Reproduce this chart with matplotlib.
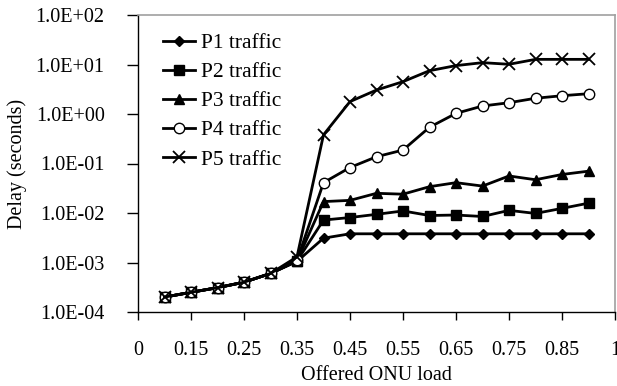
import matplotlib
matplotlib.use("Agg")
import matplotlib.pyplot as plt
import numpy as np

load = [0.10, 0.15, 0.20, 0.25, 0.30, 0.35, 0.40, 0.45, 0.50,
        0.55, 0.60, 0.65, 0.70, 0.75, 0.80, 0.85, 0.90]

p1 = [2.0e-4, 2.5e-4, 3.1e-4, 4.0e-4, 6.0e-4, 1.05e-3, 3.1e-3, 3.8e-3, 3.8e-3,
      3.8e-3, 3.8e-3, 3.8e-3, 3.8e-3, 3.8e-3, 3.8e-3, 3.8e-3, 3.8e-3]
p2 = [2.0e-4, 2.5e-4, 3.1e-4, 4.0e-4, 6.0e-4, 1.07e-3, 7.2e-3, 8.1e-3, 9.4e-3,
      1.1e-2, 8.9e-3, 9.1e-3, 8.5e-3, 1.13e-2, 9.8e-3, 1.24e-2, 1.58e-2]
p3 = [2.0e-4, 2.5e-4, 3.1e-4, 4.0e-4, 6.0e-4, 1.08e-3, 1.7e-2, 1.8e-2, 2.5e-2,
      2.4e-2, 3.4e-2, 4.1e-2, 3.5e-2, 5.6e-2, 4.7e-2, 6.0e-2, 7.0e-2]
p4 = [2.0e-4, 2.5e-4, 3.1e-4, 4.0e-4, 6.0e-4, 1.1e-3, 4.1e-2, 8.3e-2, 0.137,
      0.187, 0.54, 1.03, 1.45, 1.69, 2.08, 2.34, 2.57]
p5 = [2.0e-4, 2.5e-4, 3.1e-4, 4.0e-4, 6.0e-4, 1.3e-3, 0.38, 1.78, 3.05,
      4.5, 7.5, 9.5, 10.9, 10.1, 12.7, 12.7, 12.7]

series = [
    ("P1 traffic", p1, dict(marker="D", markersize=5.5, markerfacecolor="black")),
    ("P2 traffic", p2, dict(marker="s", markersize=7, markerfacecolor="black")),
    ("P3 traffic", p3, dict(marker="^", markersize=7.5, markerfacecolor="black")),
    ("P4 traffic", p4, dict(marker="o", markersize=7.5, markerfacecolor="white")),
    ("P5 traffic", p5, dict(marker="x", markersize=8, markeredgewidth=1.3)),
]

xtick_pos = [0.05, 0.15, 0.25, 0.35, 0.45, 0.55, 0.65, 0.75, 0.85, 0.95]
xtick_labels = ["0", "0.15", "0.25", "0.35", "0.45", "0.55", "0.65", "0.75", "0.85", "1"]
ytick_pos = [1e-4, 1e-3, 1e-2, 1e-1, 1e0, 1e1, 1e2]
ytick_labels = ["1.0E-04", "1.0E-03", "1.0E-02", "1.0E-01", "1.0E+00", "1.0E+01", "1.0E+02"]

plt.rcParams["font.family"] = ["Liberation Serif", "DejaVu Serif"]
plt.rcParams["font.size"] = 14.5

fig = plt.figure(figsize=(6.17, 3.86), dpi=100)
ax = fig.add_axes([138 / 617, 1 - 312 / 386, (615 - 138) / 617, (312 - 15) / 386])

for name, vals, style in series:
    ax.plot(load, vals, color="black", linewidth=2, label=name, **style)

ax.set_yscale("log")
ax.set_ylim(1e-4, 1e2)
ax.set_xlim(0.05, 0.95)
ax.set_yticks(ytick_pos)
ax.set_yticklabels(ytick_labels)
ax.yaxis.set_minor_locator(matplotlib.ticker.NullLocator())
ax.set_xticks(xtick_pos)
ax.set_xticklabels(xtick_labels)

ax.tick_params(axis="y", direction="out", length=8, width=1, pad=16)
ax.tick_params(axis="x", direction="out", length=6, width=1, pad=15)

for side in ("top", "right"):
    ax.spines[side].set_color("#a0a0a0")
    ax.spines[side].set_linewidth(1.2)
for side in ("left", "bottom"):
    ax.spines[side].set_color("black")
    ax.spines[side].set_linewidth(1)

ax.set_xlabel("Offered ONU load", labelpad=4)
ax.set_ylabel("Delay (seconds)", labelpad=6)

ax.legend(loc="upper left", bbox_to_anchor=(163 / 617, 1 - 33 / 386),
          bbox_transform=fig.transFigure, frameon=False, numpoints=1,
          fontsize=15.5, handlelength=1.5, handletextpad=0.25, labelspacing=0.42,
          borderpad=0, borderaxespad=0)

fig.savefig("out.png", dpi=100)
